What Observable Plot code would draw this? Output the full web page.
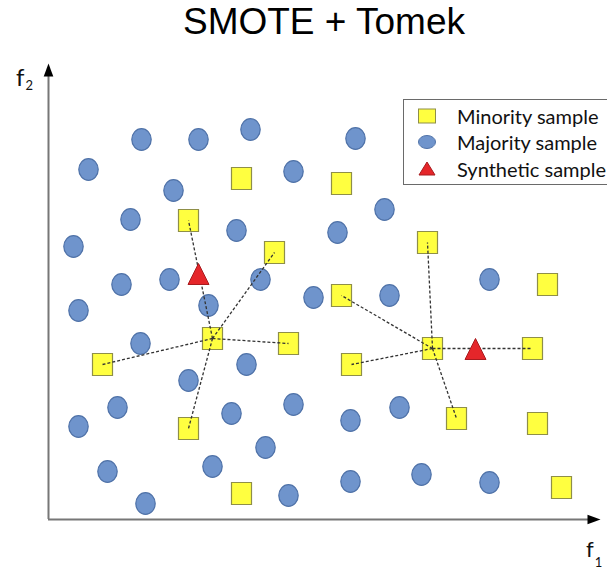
<!DOCTYPE html>
<html>
<head>
<meta charset="utf-8">
<script src="https://cdn.jsdelivr.net/npm/d3@7"></script>
<script src="https://cdn.jsdelivr.net/npm/@observablehq/plot@0.6"></script>
<style>
  html, body { margin: 0; padding: 0; background: #fff; }
  body { width: 607px; height: 573px; overflow: hidden; position: relative; font-family: "Liberation Sans", Arial, sans-serif; }
  #title { position: absolute; left: 0; top: 0; width: 607px; height: 46px; box-sizing: border-box; padding-left: 41px; text-align: center; font-family: "Liberation Sans", Arial, sans-serif; font-size: 37px; line-height: 44px; color: #000; }
  #chart { position: absolute; left: 0; top: 46px; }
  .axlab { position: absolute; font-family: Lato, "Open Sans", sans-serif; color: #111; white-space: nowrap; line-height: 1; }
  #legend { position: absolute; left: 403px; top: 99px; width: 230px; height: 86px; box-sizing: border-box; border: 1.5px solid #6a6a6a; background: #fff; font-family: Lato, "Open Sans", sans-serif; font-size: 20px; color: #111; }
  .lrow { position: absolute; left: 0; height: 26px; display: flex; align-items: center; }
  .lrow svg { display: block; }
  .lrow span { position: absolute; left: 53px; white-space: nowrap; }
</style>
</head>
<body>
<div id="title">SMOTE + Tomek</div>
<div id="chart"></div>
<div class="axlab" id="f2" style="left:16px; top:65px; font-size:24px;">f<span style="font-size:13px; position:relative; top:4px; left:1px;">2</span></div>
<div class="axlab" id="f1" style="left:586px; top:538px; font-size:22px;">f<span style="font-size:13px; position:relative; top:10px; left:1px;">1</span></div>
<div id="legend"></div>
<script>
// ---- data (x to the right, y upward from the axis origin) ----
const majority = [
  [93,380],[150,380],[202,390],[307,381],
  [40,350],[245,348],[125,329],
  [82,300],[188,289],[336,310],[289,287],
  [25,273],
  [73,235],[121,240],[212,240],[265,222],[341,224],[441,240],
  [160,214],[30,209],
  [92,176],[198,155],[140,139],
  [69,112],[30,93],[183,106],[245,115],[302,99],[351,112],
  [217,72],
  [164,53],[59,48],[97,16],[240,24],[302,38],[373,45],[441,37]
];
const minority = [
  [193,341],[293,336],[140,299],[226,267],[379,277],[499,235],
  [293,224],[164,181],[240,176],[54,155],[384,171],[484,171],
  [303,155],[140,91],[408,101],[489,96],[193,26],[513,32]
];
const synthetic = [[150,245],[427,170]];
const leftCenter = [164,181];
const leftNeighbors = [[140,299],[226,267],[240,176],[54,155],[140,91]];
const rightCenter = [384,171];
const rightNeighbors = [[293,224],[379,277],[484,171],[303,155],[408,101]];
const xAxisEnd = 552;
const yAxisEnd = 456;
const legendLabels = ["Minority sample", "Majority sample", "Synthetic sample"];

// ---- colours ----
const colMajFill = "#6f94cc", colMajStroke = "#4f72a8";
const colMinFill = "#ffff40", colMinStroke = "#8f8f48";
const colSynFill = "#e5262a", colSynStroke = "#a81b1e";

// ---- custom symbols ----
const ellipseSym = {draw(ctx) {
  const rx = 9.7, ry = 10.8, k = 0.5523;
  ctx.moveTo(rx, 0);
  ctx.bezierCurveTo(rx, ry*k, rx*k, ry, 0, ry);
  ctx.bezierCurveTo(-rx*k, ry, -rx, ry*k, -rx, 0);
  ctx.bezierCurveTo(-rx, -ry*k, -rx*k, -ry, 0, -ry);
  ctx.bezierCurveTo(rx*k, -ry, rx, -ry*k, rx, 0);
  ctx.closePath();
}};
const rectSym = {draw(ctx) {
  const hw = 10, hh = 11;
  ctx.moveTo(-hw, -hh); ctx.lineTo(hw, -hh); ctx.lineTo(hw, hh); ctx.lineTo(-hw, hh); ctx.closePath();
}};
const triSym = {draw(ctx) {
  ctx.moveTo(0, -11); ctx.lineTo(10.5, 10); ctx.lineTo(-10.5, 10); ctx.closePath();
}};
const arrowSym = {draw(ctx) {
  ctx.moveTo(0, 0); ctx.lineTo(4.8, 13); ctx.lineTo(-4.8, 13); ctx.closePath();
}};

const links = [
  ...leftNeighbors.map(n => ({x1: leftCenter[0], y1: leftCenter[1], x2: n[0], y2: n[1]})),
  ...rightNeighbors.map(n => ({x1: rightCenter[0], y1: rightCenter[1], x2: n[0], y2: n[1]}))
];

const chart = Plot.plot({
  width: 607,
  height: 527,
  marginLeft: 48,
  marginRight: 9,
  marginTop: 18,
  marginBottom: 54,
  x: {domain: [0, 550], axis: null},
  y: {domain: [0, 455], axis: null},
  style: {background: "transparent", overflow: "visible"},
  marks: [
    Plot.ruleY([0], {x1: 0, x2: xAxisEnd - 6, stroke: "#777", strokeWidth: 2}),
    Plot.ruleX([0], {y1: 0, y2: yAxisEnd - 6, stroke: "#777", strokeWidth: 2}),
    Plot.dot(majority, {x: d => d[0], y: d => d[1], symbol: ellipseSym, fill: colMajFill, stroke: colMajStroke, strokeWidth: 1.2}),
    Plot.dot(minority, {x: d => d[0], y: d => d[1], symbol: rectSym, fill: colMinFill, stroke: colMinStroke, strokeWidth: 1.2}),
    Plot.link(links, {x1: "x1", y1: "y1", x2: "x2", y2: "y2", stroke: "#333", strokeWidth: 1.3, strokeDasharray: "3,2"}),
    Plot.dot(synthetic, {x: d => d[0], y: d => d[1], symbol: triSym, fill: colSynFill, stroke: colSynStroke, strokeWidth: 1}),
    Plot.dot([[xAxisEnd, 0]], {x: d => d[0], y: d => d[1], symbol: arrowSym, rotate: 90, fill: "#000", stroke: "none"}),
    Plot.dot([[0, yAxisEnd]], {x: d => d[0], y: d => d[1], symbol: arrowSym, fill: "#000", stroke: "none"})
  ]
});
document.getElementById("chart").appendChild(chart);

// ---- legend ----
const legend = document.getElementById("legend");
const legendSymbols = [
  `<rect x="14.5" y="6" width="17" height="14" fill="${colMinFill}" stroke="${colMinStroke}" stroke-width="1"/>`,
  `<ellipse cx="23" cy="13" rx="8.5" ry="6.5" fill="${colMajFill}" stroke="${colMajStroke}" stroke-width="1"/>`,
  `<polygon points="23,6 31,19 15,19" fill="${colSynFill}" stroke="${colSynStroke}" stroke-width="1"/>`
];
const rowTops = [3, 29, 56];
legendLabels.forEach((lab, i) => {
  const row = document.createElement("div");
  row.className = "lrow";
  row.style.top = rowTops[i] + "px";
  row.innerHTML = `<svg width="46" height="26">${legendSymbols[i]}</svg><span>${lab}</span>`;
  legend.appendChild(row);
});
</script>
</body>
</html>
